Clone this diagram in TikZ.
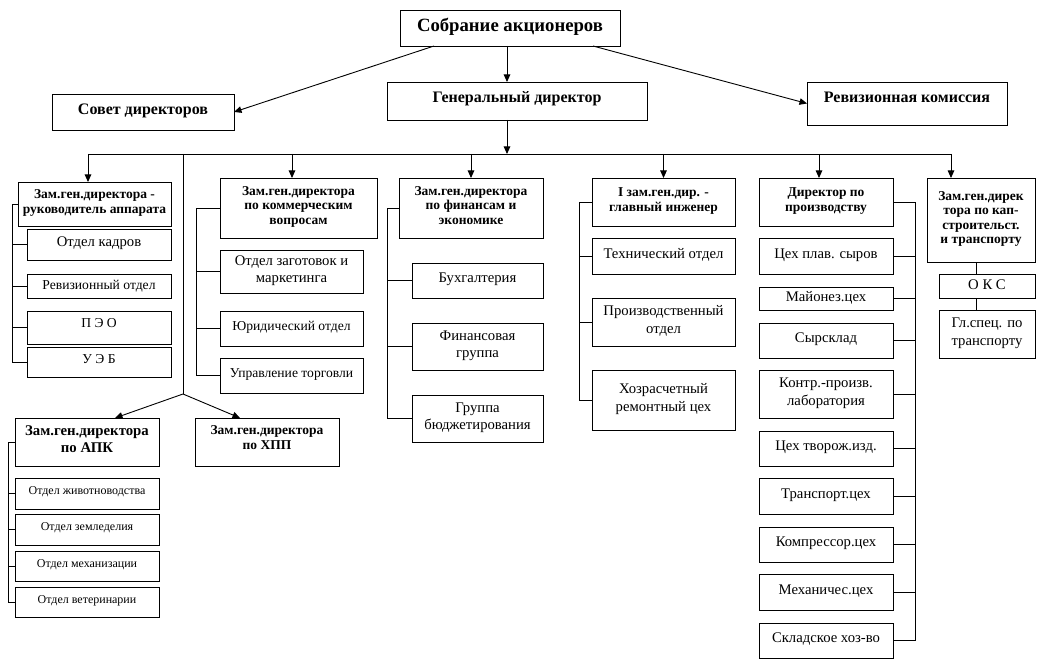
\documentclass[tikz,border=0pt]{standalone}
\usepackage{fontspec}
\setmainfont{Liberation Serif}
\usetikzlibrary{arrows.meta}

\begin{document}
\begin{tikzpicture}[
    x=1pt, y=-1pt,
    >={Triangle[length=7.5pt,width=6.5pt]},
    line width=0.9pt,
    box/.style={draw, anchor=north west, align=center, inner sep=1pt, outer sep=0pt, text depth=5pt, font=\fontsize{14.7}{17.5}\selectfont},
    small/.style={font=\fontsize{13.6}{16}\selectfont},
    head/.style={box, font=\fontsize{13.5}{14.5}\selectfont\bfseries},
    top/.style={box, text depth=9pt, font=\fontsize{16}{19}\selectfont\bfseries},
    wh/.style 2 args={minimum width=#1, minimum height=#2}
]
\useasboundingbox (0,0) rectangle (1043,668);

% Top level
\node[top, wh={220}{36}, text depth=6pt, font=\fontsize{18.7}{22}\selectfont\bfseries] (sa) at (400,10) {Собрание акционеров};
\node[top, wh={182}{36}, text depth=5pt] (sd) at (52,94) {Совет директоров};
\node[top, wh={260}{38}] (gd) at (387,82) {Генеральный директор};
\node[top, wh={200}{43}, text depth=12pt] (rk) at (807,82) {Ревизионная комиссия};

\draw[->] ([xshift=-76]sa.south) -- (sd.east);
\draw[->] ([xshift=83]sa.south) -- (rk.west);
\draw[->] ([xshift=-3]sa.south) -- ([xshift=-3]sa.south |- gd.north);

% Bus under the general director
\coordinate (bl) at (88,154);
\coordinate (br) at (951,154);
\draw (bl) -- (br);
\draw[->] ([xshift=-3]sa.south |- gd.south) -- ([xshift=-3]sa.south |- bl);

% Column 1: apparatus
\node[head, wh={153}{44}] (zr) at (18,182) {Зам.ген.директора -\\руководитель аппарата};
\node[box, wh={144}{31}] (ok) at (27,229) {Отдел кадров};
\node[box, small, wh={144}{24}, text depth=3pt] (rev) at (27,274) {Ревизионный отдел};
\node[box, small, wh={144}{33}, text depth=9pt] (peo) at (27,311) {П Э О};
\node[box, small, wh={144}{30}, text depth=7pt] (ueb) at (27,347) {У Э Б};
\draw[->] (bl) -- (bl |- zr.north);
\coordinate (k1) at (12,0);
\draw (zr.west) -- (zr.west -| k1) -- (ueb.west -| k1) -- (ueb.west);
\foreach \n in {ok,rev,peo} \draw (\n.west -| k1) -- (\n.west);

% Column 2: commerce
\node[head, wh={157}{60}] (kv) at (220,178) {Зам.ген.директора\\по коммерческим\\вопросам};
\node[box, wh={143}{43}] (zm) at (220,250) {Отдел заготовок и\\маркетинга};
\node[box, small, wh={143}{35}] (yu) at (220,311) {Юридический отдел};
\node[box, small, wh={143}{35}] (ut) at (220,358) {Управление торговли};
\coordinate (d2) at (292,154);
\draw[->] (d2) -- (d2 |- kv.north);
\coordinate (k2) at (196,0);
\draw (kv.west) -- (kv.west -| k2) -- (ut.west -| k2) -- (ut.west);
\foreach \n in {zm,yu} \draw (\n.west -| k2) -- (\n.west);

% Fork to APK and KhPP
\coordinate (fk) at (183,394);
\draw (fk |- bl) -- (fk);
\node[head, wh={144}{48}, font=\fontsize{14.8}{17}\selectfont\bfseries] (apk) at (15,418) {Зам.ген.директора\\по АПК};
\node[head, wh={144}{48}, text depth=9pt] (xpp) at (195,418) {Зам.ген.директора\\по ХПП};
\draw[->] (fk) -- ([xshift=28]apk.north);
\draw[->] (fk) -- ([xshift=-27]xpp.north);
\node[box, wh={144}{31}, font=\fontsize{12}{14}\selectfont] (zh) at (15,478) {Отдел животноводства};
\node[box, wh={144}{31}, font=\fontsize{12}{14}\selectfont] (zem) at (15,514) {Отдел земледелия};
\node[box, wh={144}{30}, font=\fontsize{12}{14}\selectfont] (meh) at (15,551) {Отдел механизации};
\node[box, wh={144}{30}, font=\fontsize{12}{14}\selectfont] (vet) at (15,587) {Отдел ветеринарии};
\coordinate (k3) at (8,0);
\draw (apk.west) -- (apk.west -| k3) -- (vet.west -| k3) -- (vet.west);
\foreach \n in {zh,zem,meh} \draw (\n.west -| k3) -- (\n.west);

% Column 3: finance
\node[head, wh={144}{60}] (fe) at (399,178) {Зам.ген.директора\\по финансам и\\экономике};
\node[box, wh={131}{35}] (bu) at (412,263) {Бухгалтерия};
\node[box, wh={131}{47}] (fg) at (412,323) {Финансовая\\группа};
\node[box, wh={131}{47}] (gb) at (412,395) {Группа\\бюджетирования};
\draw[->] (fe.north |- bl) -- (fe.north);
\coordinate (k4) at (387,0);
\draw (fe.west) -- (fe.west -| k4) -- (gb.west -| k4) -- (gb.west);
\foreach \n in {bu,fg} \draw (\n.west -| k4) -- (\n.west);

% Column 4: chief engineer
\node[head, wh={143}{48}] (gi) at (592,178) {I зам.ген.дир. -\\главный инженер};
\node[box, wh={143}{36}] (to) at (592,238) {Технический отдел};
\node[box, wh={143}{48}] (po) at (592,298) {Производственный\\отдел};
\node[box, wh={143}{60}] (xr) at (592,370) {Хозрасчетный\\ремонтный цех};
\draw[->] (gi.north |- bl) -- (gi.north);
\coordinate (k5) at (579,0);
\draw (gi.west) -- (gi.west -| k5) -- (xr.west -| k5) -- (xr.west);
\foreach \n in {to,po} \draw (\n.west -| k5) -- (\n.west);

% Column 5: production
\node[head, wh={134}{48}] (dp) at (759,178) {Директор по\\производству};
\node[box, wh={134}{36}] (cps) at (759,238) {Цех плав. сыров};
\node[box, wh={134}{23}, text depth=4pt] (mc) at (759,287) {Майонез.цех};
\node[box, wh={134}{35}] (ss) at (759,323) {Сырсклад};
\node[box, wh={134}{48}] (kl) at (759,370) {Контр.-произв.\\лаборатория};
\node[box, wh={134}{35}] (ct) at (759,431) {Цех творож.изд.};
\node[box, wh={134}{36}] (tc) at (759,478) {Транспорт.цех};
\node[box, wh={134}{35}] (kc) at (759,527) {Компрессор.цех};
\node[box, wh={134}{36}] (mh) at (759,574) {Механичес.цех};
\node[box, wh={134}{35}] (sx) at (759,623) {Складское хоз-во};
\coordinate (d5) at (819,154);
\draw[->] (d5) -- (d5 |- dp.north);
\coordinate (k6) at (915,0);
\draw (dp.east) -- (dp.east -| k6) -- (sx.east -| k6) -- (sx.east);
\foreach \n in {cps,mc,ss,kl,ct,tc,kc,mh} \draw (\n.east -| k6) -- (\n.east);

% Column 6: construction and transport
\node[head, wh={108}{84}] (ks) at (927,178) {Зам.ген.дирек\\тора по кап-\\строительст.\\и транспорту};
\node[box, wh={96}{24}, text depth=3pt] (oks) at (939,274) {О К С};
\node[box, wh={96}{48}] (gs) at (939,310) {Гл.спец. по\\транспорту};
\draw[->] (br) -- (br |- ks.north);
\coordinate (k7) at (976,0);
\draw (ks.south -| k7) -- (oks.north -| k7);
\draw (oks.south -| k7) -- (gs.north -| k7);

\end{tikzpicture}
\end{document}
